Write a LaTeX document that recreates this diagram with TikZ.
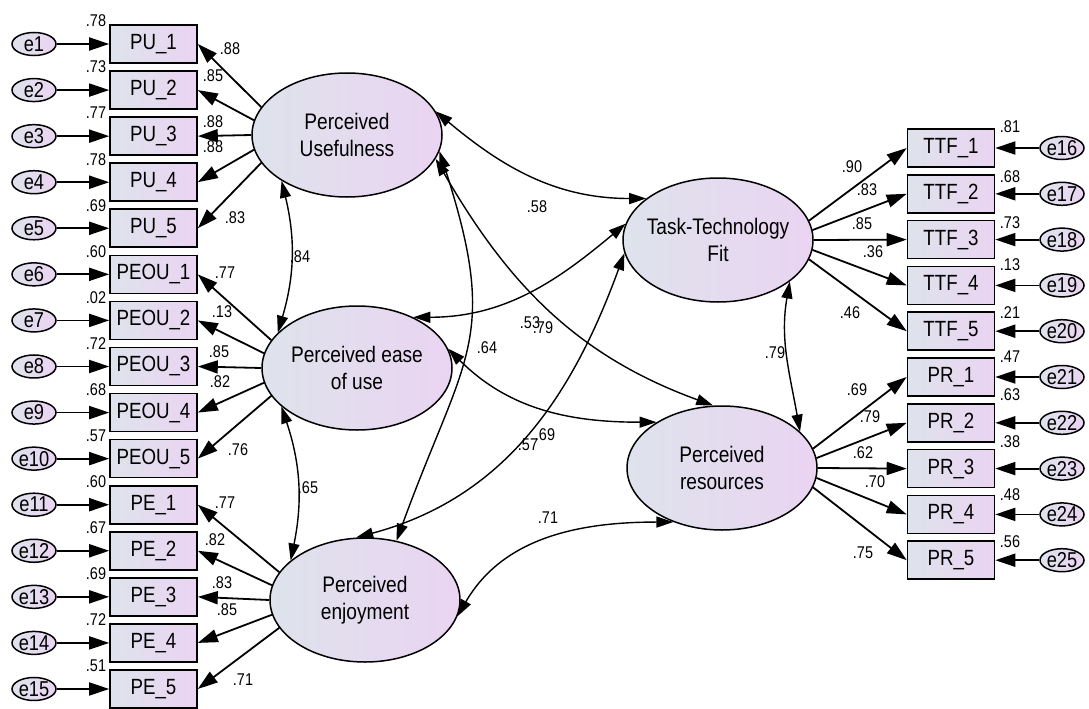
\documentclass[tikz,border=0pt]{standalone}
\usepackage{fontspec}
\setmainfont{Liberation Sans}[FakeStretch=0.85]
\usetikzlibrary{shapes.geometric,arrows.meta}

\definecolor{semgrey}{RGB}{222,227,236}
\definecolor{sempurple}{RGB}{234,212,242}

\tikzset{
  latent/.style={ellipse, draw, line width=1.5pt, minimum width=190pt,
    minimum height=124pt, inner sep=0pt, left color=semgrey, right color=sempurple},
  lattext/.style={align=center, font=\fontsize{22.5}{27}\selectfont},
  obs/.style={rectangle, draw, line width=1.6pt, minimum width=87pt,
    minimum height=38pt, inner sep=0pt, left color=semgrey, right color=sempurple,
    font=\fontsize{22}{24}\selectfont},
  err/.style={ellipse, draw, line width=1.5pt, minimum width=44pt,
    minimum height=23pt, inner sep=0pt, left color=semgrey, right color=sempurple,
    font=\fontsize{21.5}{23}\selectfont},
  est/.style={font=\fontsize{17}{19}\selectfont, inner sep=0pt},
  regr/.style={-{Triangle[length=20pt,width=13pt]}, line width=1.8pt},
  cov/.style={{Triangle[length=17pt,width=11pt]}-{Triangle[length=17pt,width=11pt]}, line width=1.4pt}
}

\begin{document}
\begin{tikzpicture}[x=1pt,y=1pt]
\useasboundingbox (0,0) rectangle (1089,-709);

% latent constructs
\node[latent, label={[lattext]center:Perceived\\Usefulness}] (pu) at (347,-135) {};
\node[latent, label={[lattext]center:Perceived ease\\of use}] (peou) at (357,-368) {};
\node[latent, label={[lattext]center:Perceived\\enjoyment}] (pe) at (365,-600) {};
\node[latent, label={[lattext]center:Task-Technology\\Fit}] (ttf) at (718,-240) {};
\node[latent, label={[lattext]center:Perceived\\resources}] (pr) at (722,-468) {};

% left indicators
\foreach \nm/\lv/\var/\ld/\lx/\ly [count=\i] in {
  PU\_1/pu/.78/.88/230/49, PU\_2/pu/.73/.85/213/76, PU\_3/pu/.77/.88/213/122,
  PU\_4/pu/.78/.88/213/147, PU\_5/pu/.69/.83/235/218,
  PEOU\_1/peou/.60/.77/225/273, PEOU\_2/peou/.02/.13/222/312, PEOU\_3/peou/.72/.85/219/352,
  PEOU\_4/peou/.68/.82/220/382, PEOU\_5/peou/.57/.76/238/450,
  PE\_1/pe/.60/.77/225/503, PE\_2/pe/.67/.82/215/540, PE\_3/pe/.69/.83/222/583,
  PE\_4/pe/.72/.85/227/610, PE\_5/pe/.51/.71/243/680}
{
  \pgfmathsetmacro\y{-44-46.07*(\i-1)}
  \pgfmathtruncatemacro\ang{162+9*mod(\i-1,5)}
  \node[obs] (x\i) at (153.5,\y) {\nm};
  \node[err] (e\i) at (34,\y) {e\i};
  \draw[regr] (e\i) -- (x\i);
  \draw[regr] (\lv.\ang) -- (x\i.east);
  \node[est] at (96,\y+23) {\var};
  \node[est] at (\lx,-\ly) {\ld};
}

% right indicators
\foreach \nm/\lv/\var/\vy/\ld/\lx/\ly [count=\j] in {
  TTF\_1/ttf/.81/127/.90/852/167, TTF\_2/ttf/.68/177/.83/867/190,
  TTF\_3/ttf/.73/223/.85/862/224, TTF\_4/ttf/.13/265/.36/873/252,
  TTF\_5/ttf/.21/313/.46/850/313,
  PR\_1/pr/.47/357/.69/857/390, PR\_2/pr/.63/395/.79/870/417,
  PR\_3/pr/.38/442/.62/863/453, PR\_4/pr/.48/495/.70/875/482,
  PR\_5/pr/.56/542/.75/863/553}
{
  \pgfmathsetmacro\y{-148-45.8*(\j-1)}
  \pgfmathtruncatemacro\en{\j+15}
  \pgfmathtruncatemacro\ang{mod(372-6*mod(\j-1,5),360)}
  \node[obs] (y\j) at (951,\y) {\nm};
  \node[err] (e\en) at (1062,\y) {e\en};
  \draw[regr] (e\en) -- (y\j);
  \draw[regr] (\lv.\ang) -- (y\j.west);
  \node[est] at (1010,-\vy) {\var};
  \node[est] at (\lx,-\ly) {\ld};
}

% correlations
\draw[cov] (pu.215) to[bend left=15] (peou.156);
\node[est] at (300,-257) {.84};
\draw[cov] (peou.207) to[bend left=15] (pe.152);
\node[est] at (308,-488) {.65};
\draw[cov] (pu.350) to[out=-72,in=70,looseness=1.3] (pe.62);
\node[est] at (487,-348) {.64};
\draw[cov] (pu.15) to[out=-40,in=180] (ttf.150);
\node[est] at (537,-207) {.58};
\draw[cov] (peou.42) to[out=0,in=220] (ttf.170);
\node[est] at (530,-323) {.53};
\draw[cov] (pu.345) to[out=-60,in=160] (pr.98);
\node[est] at (543,-328) {.79};
\draw[cov] (peou.12) to[out=-45,in=180] (pr.145);
\node[est] at (545,-435) {.69};
\draw[cov] (pe.98) to[out=15,in=250] (ttf.188);
\node[est] at (528,-445) {.57};
\draw[cov] (ttf.330) to[out=-100,in=100] (pr.25);
\node[est] at (775,-353) {.79};
\draw[cov] (pr.228) to[out=180,in=60] (pe.350);
\node[est] at (548,-518) {.71};

\end{tikzpicture}
\end{document}
